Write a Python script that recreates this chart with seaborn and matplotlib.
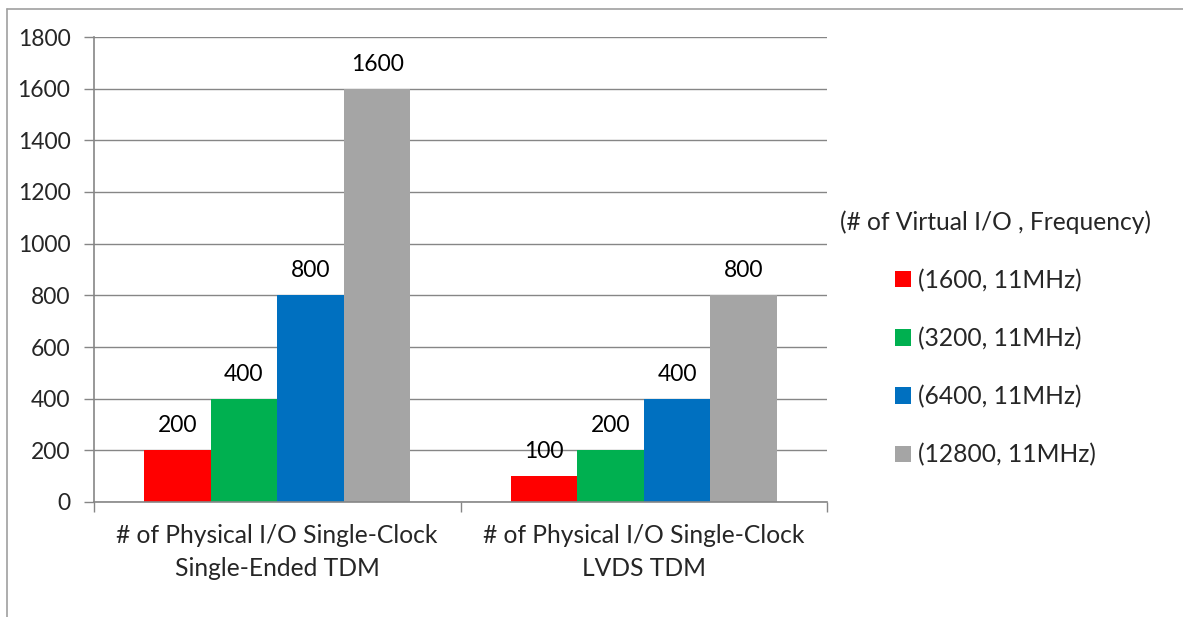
import matplotlib
matplotlib.use("Agg")
import matplotlib.pyplot as plt
from matplotlib.lines import Line2D
from matplotlib.patches import Patch
import seaborn as sns
import pandas as pd

categories = ["# of Physical I/O Single-Clock\nSingle-Ended TDM",
              "# of Physical I/O Single-Clock\nLVDS TDM"]
series = ["(1600, 11MHz)", "(3200, 11MHz)", "(6400, 11MHz)", "(12800, 11MHz)"]
values = [
    [200, 400, 800, 1600],
    [100, 200, 400, 800],
]
colors = ["#FF0000", "#00B050", "#0070C0", "#A5A5A5"]
legend_title = "(# of Virtual I/O , Frequency)"
y_ticks = [0, 200, 400, 600, 800, 1000, 1200, 1400, 1600, 1800]

rows = []
for ci, cat in enumerate(categories):
    for si, s in enumerate(series):
        rows.append({"category": cat, "series": s, "value": values[ci][si]})
df = pd.DataFrame(rows)

sns.set_theme(style="white")
plt.rcParams["font.family"] = ["Lato", "DejaVu Sans"]
FS = 17.7        # category and legend text
FS_NUM = 16.5    # numbers
grid_c = "#868686"

fig = plt.figure(figsize=(11.83, 6.17), dpi=100)
ax = fig.add_axes([94 / 1183, 1 - 502 / 617, (827 - 94) / 1183, (502 - 37) / 617])

sns.barplot(data=df, x="category", y="value", hue="series", order=categories,
            hue_order=series, palette=colors, width=0.727, gap=0,
            saturation=1, linewidth=0, ax=ax, legend=False)

for cont in ax.containers:
    ax.bar_label(cont, fmt="%d", padding=10, fontsize=FS_NUM, color="black")

ax.set_ylim(0, 1800)
ax.set_yticks(y_ticks)
ax.set_xlim(-0.5, len(categories) - 0.5)
ax.yaxis.grid(True, color=grid_c, linewidth=1)
ax.set_axisbelow(True)
ax.set_xlabel("")
ax.set_ylabel("")

# category boundaries as ticks, labels at centres
ax.set_xticks([i - 0.5 for i in range(len(categories) + 1)])
ax.set_xticklabels([])
ax.set_xticks(range(len(categories)), minor=True)
ax.set_xticklabels(categories, minor=True, fontsize=FS, linespacing=1.52)
ax.tick_params(axis="x", which="major", direction="out", length=7, color=grid_c, width=1, bottom=True)
ax.tick_params(axis="x", which="minor", length=0, pad=16)
ax.tick_params(axis="y", direction="out", length=7, color=grid_c, width=1, left=True,
               labelsize=FS_NUM, pad=10)

for side in ("top", "right"):
    ax.spines[side].set_visible(False)
for side in ("left", "bottom"):
    ax.spines[side].set_color(grid_c)
    ax.spines[side].set_linewidth(1.2)

handles = [Patch(facecolor=c, edgecolor="none") for c in colors]
leg = fig.legend(handles, series, title=legend_title, loc="upper left",
                 bbox_to_anchor=(818 / 1183, 1 - 188 / 617), frameon=False,
                 fontsize=FS, title_fontsize=FS, handlelength=0.65, handleheight=0.65,
                 handletextpad=0.3, labelspacing=1.42)
leg._legend_box.align = "center"

# chart-area border
fig.add_artist(Line2D([7 / 1183, 7 / 1183], [0, 1 - 9 / 617], color="#A0A0A0", linewidth=1.2))
fig.add_artist(Line2D([7 / 1183, 1], [1 - 9 / 617, 1 - 9 / 617], color="#A0A0A0", linewidth=1.2))

fig.savefig("out.png", dpi=100)
